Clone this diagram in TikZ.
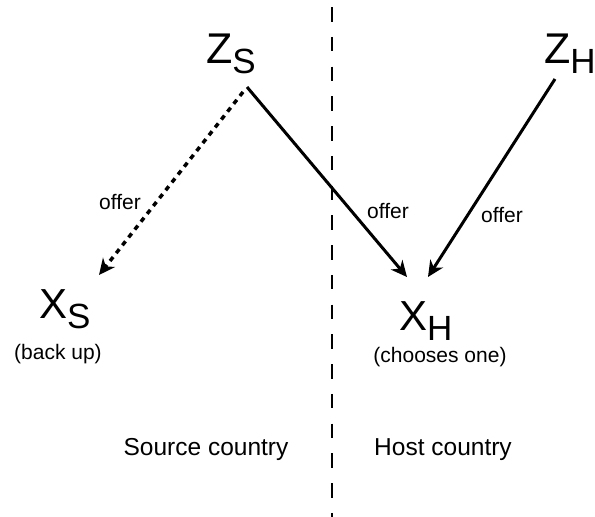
\documentclass[tikz,border=0pt]{standalone}
\usepackage{fontspec}
\setmainfont{Liberation Sans}
\usetikzlibrary{arrows.meta}
\begin{document}
\begin{tikzpicture}[x=1pt,y=-1pt,
  lbl/.style={inner sep=0pt, anchor=base, font=\fontsize{21}{21}\selectfont},
  region/.style={inner sep=0pt, anchor=base, font=\fontsize{24.5}{24.5}\selectfont},
  zvar/.style={inner sep=0pt, anchor=base west, font=\fontsize{43}{43}\selectfont},
  xvar/.style={inner sep=0pt, anchor=base west, font=\fontsize{42}{42}\selectfont},
  arr/.style={line width=3pt, -{Stealth[length=16pt,width=15pt,inset=5pt]}},
  dotarr/.style={line width=3.5pt, dash pattern=on 5pt off 5pt, -{Stealth[length=16pt,width=15pt,inset=5pt]}},
  divider/.style={line width=2.2pt, dash pattern=on 14.5pt off 15.25pt}]
\useasboundingbox (0,0) rectangle (595,517);
\newcommand{\subsc}[1]{\raisebox{-10pt}{\fontsize{35}{35}\selectfont #1}}
% divider
\coordinate (divtop) at (332,7);
\coordinate (divbot) at (332,517);
\draw[divider] (divtop) -- (divbot);
% variables
\node[zvar] (zs) at (206,63) {Z\subsc{S}};
\node[zvar] (zh) at (544,63) {Z\subsc{H}};
\node[xvar] (xs) at (39,318) {X\subsc{S}};
\node[xvar] (xh) at (399,330) {X\subsc{H}};
% notes
\node[lbl] (bu) at (58,359) {(back up)};
\node[lbl] (co) at (440,362) {(chooses one)};
\node[region] (src) at (206,455) {Source country};
\node[region] (hst) at (443,455) {Host country};
% connector end points
\coordinate (zsout) at ([shift={(41,24)}]zs.base west);
\coordinate (zsdot) at ([shift={(37,29)}]zs.base west);
\coordinate (zhout) at ([shift={(11,16)}]zh.base west);
\coordinate (xsin) at ([shift={(60,-43)}]xs.base west);
\coordinate (xhin1) at ([shift={(8,-53)}]xh.base west);
\coordinate (xhin2) at ([shift={(29,-53)}]xh.base west);
% connectors
\draw[dotarr] (zsdot) -- (xsin);
\draw[arr] (zsout) -- (xhin1);
\draw[arr] (zhout) -- (xhin2);
% offer labels
\node[lbl] (o1) at (120,209) {offer};
\node[lbl] (o2) at (388,218) {offer};
\node[lbl] (o3) at (502,222) {offer};
\end{tikzpicture}
\end{document}
